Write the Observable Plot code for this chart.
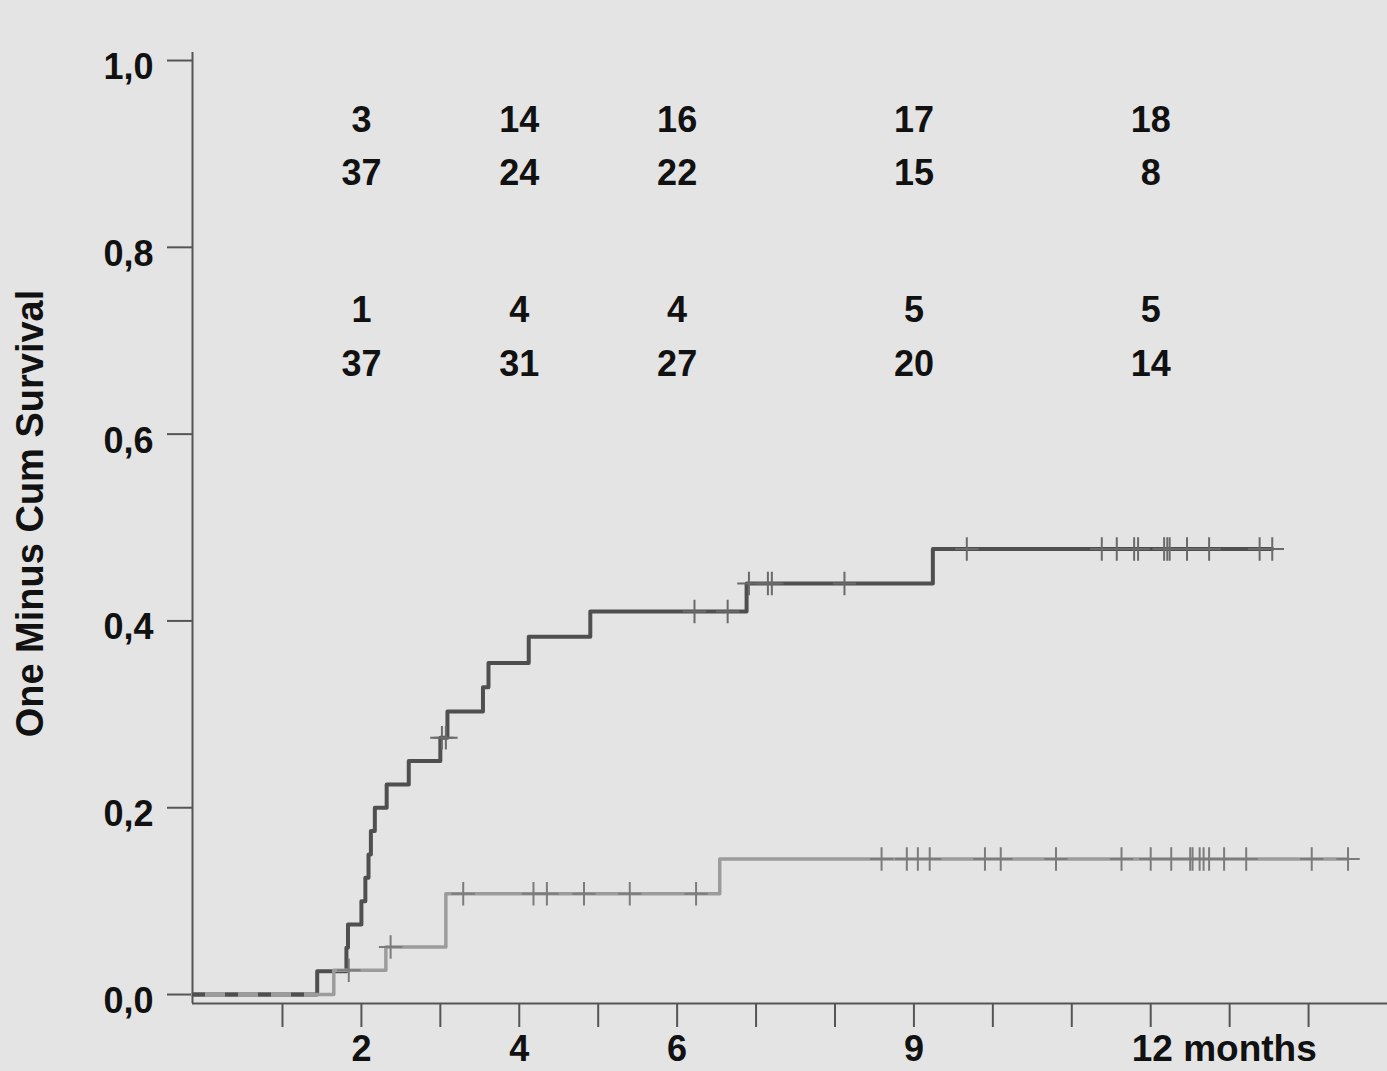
<!DOCTYPE html>
<html>
<head>
<meta charset="utf-8">
<script src="https://cdn.jsdelivr.net/npm/d3@7"></script>
<script src="https://cdn.jsdelivr.net/npm/@observablehq/plot@0.6"></script>
<style>
html, body { margin: 0; padding: 0; background: #e4e4e4; }
#chart svg { display: block; }
</style>
</head>
<body>
<div id="chart"></div>
<script>
// ---- Data ----
// Upper (dark) curve: event times (months) and cumulative incidence after each event
const darkEventMonths = [1.44, 1.81, 1.83, 2.00, 2.05, 2.09, 2.12, 2.17, 2.32, 2.60, 3.00, 3.09, 3.54, 3.61, 4.12, 4.90, 6.88, 9.24];
const darkCumulative  = [0.025, 0.05, 0.075, 0.10, 0.125, 0.15, 0.175, 0.20, 0.225, 0.25, 0.275, 0.303, 0.329, 0.355, 0.383, 0.41, 0.44, 0.477];
const darkCensorMonths = [3.02, 3.07, 6.22, 6.64, 6.91, 7.15, 7.20, 8.12, 9.67, 11.38, 11.57, 11.79, 11.84, 12.17, 12.21, 12.24, 12.46, 12.74, 13.38, 13.54];

// Lower (light) curve
const lightEventMonths = [1.65, 2.31, 3.07, 6.54];
const lightCumulative  = [0.026, 0.051, 0.108, 0.145];
const lightCensorMonths = [1.84, 2.37, 3.29, 4.18, 4.35, 4.82, 5.40, 6.24, 8.59, 8.91, 9.05, 9.20, 9.90, 10.10, 10.80, 11.63, 12.00, 12.26, 12.50, 12.53, 12.62, 12.67, 12.74, 12.93, 13.21, 14.04, 14.50];

// Table of numbers printed in the plot area
const tableMonths  = [2, 4, 6, 9, 12];
const upperEvents  = [3, 14, 16, 17, 18];
const upperAtRisk  = [37, 24, 22, 15, 8];
const lowerEvents  = [1, 4, 4, 5, 5];
const lowerAtRisk  = [37, 31, 27, 20, 14];

// Axes
const xTickMonths = [1, 2, 3, 4, 5, 6, 7, 8, 9, 10, 11, 12, 13, 14];
const xLabelMonths = [2, 4, 6, 9];
const xLastLabelMonth = 12;
const xLastLabelUnit = "months";
const yTicks = [0, 0.2, 0.4, 0.6, 0.8, 1.0];
const yTitle = "One Minus Cum Survival";

// ---- Build tables ----
const xDomain = [-0.14, 15.0];
const yDomain = [-0.0096, 1.0086];

function stepSeries(eventMonths, cum, censors) {
  const pts = [{t: xDomain[0], v: 0}];
  eventMonths.forEach((t, i) => pts.push({t, v: cum[i]}));
  pts.push({t: d3.max(censors), v: cum[cum.length - 1]});
  return pts;
}
function levelAt(eventMonths, cum, t) {
  let v = 0;
  eventMonths.forEach((e, i) => { if (e <= t) v = cum[i]; });
  return v;
}
const darkPts = stepSeries(darkEventMonths, darkCumulative, darkCensorMonths);
const lightPts = stepSeries(lightEventMonths, lightCumulative, lightCensorMonths);
const darkCens = darkCensorMonths.map(t => ({t, v: levelAt(darkEventMonths, darkCumulative, t)}));
const lightCens = lightCensorMonths.map(t => ({t, v: levelAt(lightEventMonths, lightCumulative, t)}));

const DARK = "#4f4f4f", LIGHT = "#9c9c9c", AXIS = "#555", INK = "#111";
const font = {fontSize: 36, fontWeight: "bold", fill: INK};

const rows = [
  {vals: upperEvents, y: 0.936},
  {vals: upperAtRisk, y: 0.879},
  {vals: lowerEvents, y: 0.732},
  {vals: lowerAtRisk, y: 0.6745}
];

const chart = Plot.plot({
  width: 1387,
  height: 1071,
  marginLeft: 192,
  marginRight: 0,
  marginTop: 52,
  marginBottom: 68,
  x: {domain: xDomain},
  y: {domain: yDomain},
  style: {background: "#e4e4e4", fontFamily: "'Liberation Sans', Arial, sans-serif", color: INK},
  marks: [
    Plot.axisX({ticks: xTickMonths, tickSize: 24, tickFormat: () => "", label: null, stroke: AXIS, strokeWidth: 2}),
    Plot.axisY({ticks: yTicks, tickSize: 25, tickFormat: () => "", label: null, stroke: AXIS, strokeWidth: 2}),
    Plot.ruleX([xDomain[0]], {stroke: AXIS, strokeWidth: 2}),
    Plot.ruleY([yDomain[0]], {stroke: AXIS, strokeWidth: 2}),
    // curves
    Plot.line(darkPts, {x: "t", y: "v", curve: "step-after", stroke: DARK, strokeWidth: 4}),
    Plot.line(lightPts, {x: "t", y: "v", curve: "step-after", stroke: LIGHT, strokeWidth: 3.5}),
    Plot.ruleY([0], {x1: xDomain[0], x2: darkEventMonths[0], stroke: DARK, strokeWidth: 4, strokeDasharray: "13,20"}),
    // censor marks
    Plot.dot(lightCens, {x: "t", y: "v", symbol: "plus", r: 7.6, stroke: "#7c7c7c", strokeWidth: 2}),
    Plot.dot(darkCens, {x: "t", y: "v", symbol: "plus", r: 7.6, stroke: "#6a6a6a", strokeWidth: 2}),
    // table numbers
    ...rows.map(r => Plot.text(tableMonths, {x: d => d, y: r.y, text: (d, i) => String(r.vals[i]), ...font})),
    // y tick labels
    Plot.text(yTicks, {y: d => d, frameAnchor: "left", dx: -39, dy: 7, textAnchor: "end", lineAnchor: "middle",
      text: d => d.toFixed(1).replace(".", ","), ...font}),
    // x tick labels
    Plot.text(xLabelMonths, {x: d => d, frameAnchor: "bottom", dy: 46, lineAnchor: "middle", text: d => String(d), ...font}),
    Plot.text([xLastLabelMonth], {x: d => d, frameAnchor: "bottom", dy: 46, dx: -19, textAnchor: "start", lineAnchor: "middle",
      text: d => `${d} ${xLastLabelUnit}`, ...font, fontSize: 37}),
    // y title
    Plot.text([yTitle], {frameAnchor: "left", y: 0.515, dx: -162, rotate: -90, textAnchor: "middle", lineAnchor: "middle",
      text: d => d, fontSize: 38, fontWeight: "bold", fill: INK})
  ]
});
document.getElementById("chart").appendChild(chart);
</script>
</body>
</html>
